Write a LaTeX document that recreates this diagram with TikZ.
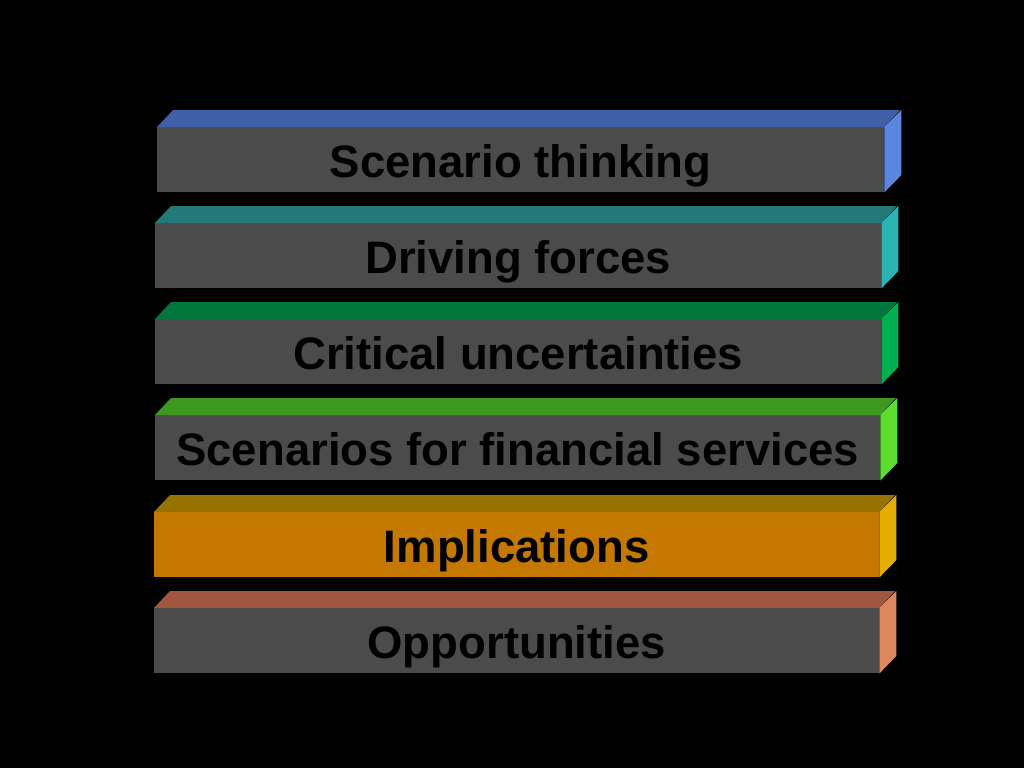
\documentclass[tikz,border=0pt]{standalone}
\usepackage{fontspec}
\setmainfont{Liberation Sans}
\definecolor{frontgray}{HTML}{4B4B4B}
\definecolor{topA}{HTML}{3F5FA8}\definecolor{sideA}{HTML}{5A86E0}
\definecolor{topB}{HTML}{237878}\definecolor{sideB}{HTML}{2BB3B3}
\definecolor{topC}{HTML}{00773C}\definecolor{sideC}{HTML}{00B050}
\definecolor{topD}{HTML}{3C981E}\definecolor{sideD}{HTML}{5CDD30}
\definecolor{frontE}{HTML}{C57800}\definecolor{topE}{HTML}{967200}\definecolor{sideE}{HTML}{E3AE00}
\definecolor{topF}{HTML}{A0573D}\definecolor{sideF}{HTML}{DE875E}
\tikzset{
  slabface/.style={rectangle, inner sep=0pt, anchor=north west},
  slabtext/.style={font=\bfseries\fontsize{45.5}{54}\selectfont, text=black, anchor=base, inner sep=0pt},
}
\newcommand{\slab}[8]{% name, left, top, right, frontcolor, topcolor, sidecolor, text
  \pgfmathsetmacro{\slabw}{#4-#2}
  \node[slabface, fill=#5, minimum width=\slabw pt, minimum height=65pt] (#1) at (#2,#3) {};
  \fill[#6] (#1.north west) -- ++(16,-17) -- ++(\slabw,0) -- (#1.north east) -- cycle;
  \fill[#7] (#1.north east) -- ++(17,-17) -- ++(0,65) -- (#1.south east) -- cycle;
  \node[slabtext] (#1t) at ([yshift=-50pt]#1.north) {#8};
}
\begin{document}
\begin{tikzpicture}[x=1pt,y=-1pt]
\fill[black] (0,0) rectangle (1024,768);
\useasboundingbox (0,0) rectangle (1024,768);
\slab{b1}{157}{127}{884}{frontgray}{topA}{sideA}{Scenario thinking}
\slab{b2}{155}{223}{881}{frontgray}{topB}{sideB}{Driving forces}
\slab{b3}{155}{319}{881}{frontgray}{topC}{sideC}{Critical uncertainties}
\slab{b4}{155}{415}{880}{frontgray}{topD}{sideD}{Scenarios for financial services}
\slab{b5}{154}{512}{879}{frontE}{topE}{sideE}{Implications}
\slab{b6}{154}{608}{879}{frontgray}{topF}{sideF}{Opportunities}
\end{tikzpicture}
\end{document}
